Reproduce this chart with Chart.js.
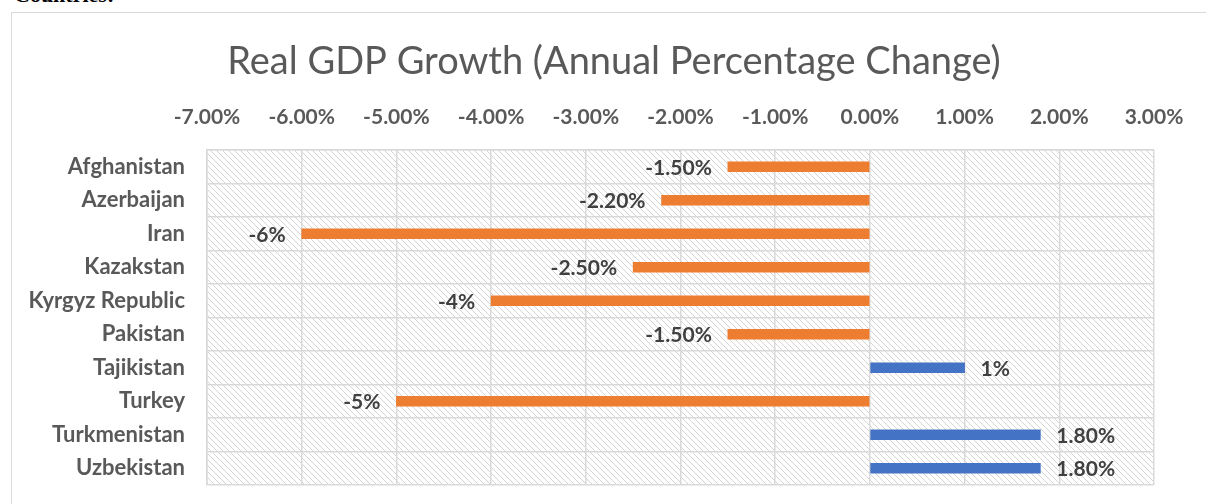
<!DOCTYPE html>
<html>
<head>
<meta charset="utf-8">
<script src="https://cdn.jsdelivr.net/npm/chart.js@4"></script>
<style>
  html, body { margin: 0; padding: 0; background: #fff; overflow: hidden; }
  .heading {
    position: absolute; left: 14px; top: -16px;
    font: bold 22px/22px "Liberation Serif", serif; color: #000;
  }
  .frame {
    position: absolute; left: 11px; top: 12px;
    width: 1300px; height: 600px;
    border: 1px solid #d9d9d9;
  }
  #chart { position: absolute; left: 0; top: 0; }
</style>
</head>
<body>
<div class="heading">Countries:</div>
<div class="frame"></div>
<canvas id="chart" width="1206" height="504"></canvas>
<script>
const categories = ['Afghanistan', 'Azerbaijan', 'Iran', 'Kazakstan', 'Kyrgyz Republic',
  'Pakistan', 'Tajikistan', 'Turkey', 'Turkmenistan', 'Uzbekistan'];
const growth = [-1.5, -2.2, -6, -2.5, -4, -1.5, 1, -5, 1.8, 1.8];
const valueLabels = ['-1.50%', '-2.20%', '-6%', '-2.50%', '-4%', '-1.50%', '1%', '-5%', '1.80%', '1.80%'];
const xMin = -7, xMax = 3, xStep = 1;
const chartTitle = 'Real GDP Growth (Annual Percentage Change)';

const ORANGE = '#ED7D31';
const BLUE = '#4472C4';
const GRID = '#d9d9d9';
const TEXT = '#595959';

// diagonal hatch for the plot area
function makeHatch() {
  const c = document.createElement('canvas');
  c.width = 6; c.height = 6;
  const g = c.getContext('2d');
  g.strokeStyle = '#d4d4d4';
  g.lineWidth = 1;
  g.beginPath();
  g.moveTo(-1, -1); g.lineTo(7, 7);
  g.moveTo(-1, 5); g.lineTo(1, 7);
  g.moveTo(5, -1); g.lineTo(7, 1);
  g.stroke();
  return g.createPattern(c, 'repeat');
}

const hatchBg = {
  id: 'hatchBg',
  beforeDraw(chart) {
    const { ctx, chartArea: a } = chart;
    ctx.save();
    ctx.fillStyle = makeHatch();
    ctx.fillRect(a.left, a.top, a.right - a.left, a.bottom - a.top);
    ctx.restore();
  }
};

// title is centred on the frame, not on the plot, so it is drawn here
const frameTitle = {
  id: 'frameTitle',
  afterDraw(chart) {
    const ctx = chart.ctx;
    ctx.save();
    ctx.font = '38px Lato';
    ctx.fillStyle = TEXT;
    ctx.textAlign = 'center';
    ctx.textBaseline = 'middle';
    ctx.fillText(chartTitle, 614, 62);
    ctx.restore();
  }
};

const barLabels = {
  id: 'barLabels',
  afterDatasetsDraw(chart) {
    const ctx = chart.ctx;
    const meta = chart.getDatasetMeta(0);
    ctx.save();
    ctx.font = 'bold 21px Lato';
    ctx.fillStyle = '#404040';
    ctx.textBaseline = 'middle';
    meta.data.forEach((bar, i) => {
      const neg = growth[i] < 0;
      ctx.textAlign = neg ? 'right' : 'left';
      ctx.fillText(valueLabels[i], bar.x + (neg ? -16 : 16), bar.y + 1);
    });
    ctx.restore();
  }
};

new Chart(document.getElementById('chart'), {
  type: 'bar',
  data: {
    labels: categories,
    datasets: [{
      data: growth,
      backgroundColor: growth.map(v => v < 0 ? ORANGE : BLUE),
      barThickness: 10
    }]
  },
  options: {
    indexAxis: 'y',
    responsive: false,
    animation: false,
    devicePixelRatio: 1,
    layout: { padding: { left: 0, right: 52, top: 91, bottom: 19 } },
    plugins: {
      legend: { display: false },
      tooltip: { enabled: false },
      title: { display: false }
    },
    scales: {
      x: {
        position: 'top',
        min: xMin,
        max: xMax,
        afterFit(scale) { scale.height = 59; },
        ticks: {
          stepSize: xStep,
          color: TEXT,
          padding: 20,
          maxRotation: 0,
          font: { family: 'Lato', size: 21, weight: 'bold' },
          callback: v => v.toFixed(2) + '%'
        },
        grid: { color: GRID, lineWidth: 1.5, drawTicks: false },
        border: { display: true, color: GRID, width: 1.5 }
      },
      y: {
        afterFit(scale) {
          scale.width = 207;
          scale.paddingTop = 0;
          scale.paddingBottom = 0;
        },
        ticks: {
          color: TEXT,
          padding: 22,
          font: { family: 'Lato', size: 22, weight: 'bold' }
        },
        grid: { color: GRID, lineWidth: 1.5, offset: true, drawTicks: false },
        border: { display: true, color: GRID, width: 1.5 }
      }
    }
  },
  plugins: [hatchBg, barLabels, frameTitle]
});
</script>
</body>
</html>
